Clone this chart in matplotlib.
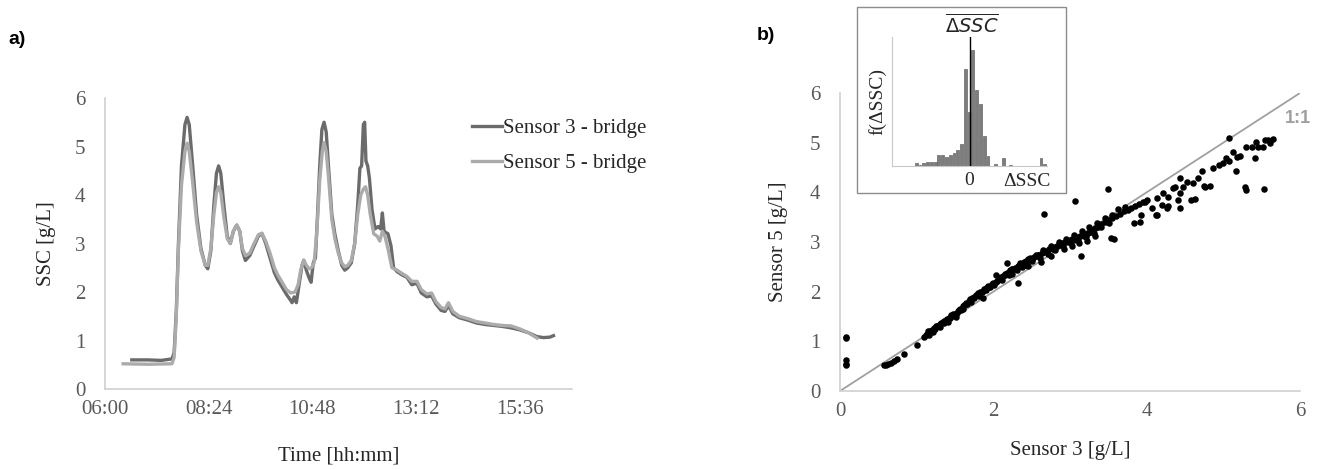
import numpy as np
import matplotlib
matplotlib.use("Agg")
import matplotlib.pyplot as plt
from matplotlib.patches import Rectangle
from matplotlib.ticker import FixedLocator, FuncFormatter

# ---- panel a: SSC time series (time in decimal hour of day) ----
s3_time = [6.62, 7.00, 7.30, 7.55, 7.60, 7.65, 7.70, 7.77, 7.85, 7.90, 7.95, 8.03,
           8.12, 8.22, 8.32, 8.38, 8.45, 8.52, 8.58, 8.63, 8.68, 8.75, 8.83, 8.90,
           8.97, 9.05, 9.12, 9.18, 9.25, 9.35, 9.45, 9.55, 9.63, 9.72, 9.82, 9.92,
           10.00, 10.10, 10.20, 10.28, 10.33, 10.38, 10.43, 10.50, 10.56, 10.60,
           10.66, 10.72, 10.77, 10.82, 10.87, 10.92, 10.97, 11.02, 11.07, 11.12,
           11.18, 11.25, 11.32, 11.40, 11.48, 11.55, 11.62, 11.70, 11.78, 11.85,
           11.90, 11.94, 11.98, 12.01, 12.04, 12.08, 12.12, 12.18, 12.25, 12.32,
           12.38, 12.42, 12.46, 12.55, 12.62, 12.68, 12.76, 12.88, 12.99, 13.10,
           13.22, 13.32, 13.45, 13.56, 13.66, 13.78, 13.87, 13.95, 14.05, 14.20,
           14.40, 14.60, 14.80, 15.00, 15.20, 15.40, 15.60, 15.80, 16.00, 16.15,
           16.30, 16.38]
s3_ssc = [0.60, 0.60, 0.59, 0.62, 0.75, 1.60, 3.00, 4.60, 5.45, 5.60, 5.45, 4.60,
          3.60, 2.90, 2.55, 2.48, 2.85, 3.80, 4.45, 4.60, 4.45, 3.80, 3.15, 3.00,
          3.25, 3.38, 3.25, 2.85, 2.65, 2.75, 2.95, 3.15, 3.21, 3.00, 2.70, 2.40,
          2.25, 2.10, 1.95, 1.85, 1.78, 1.90, 1.78, 2.20, 2.55, 2.65,
          2.45, 2.30, 2.20, 2.60, 2.70, 3.60, 4.60, 5.35, 5.50, 5.30,
          4.50, 3.60, 3.20, 2.85, 2.55, 2.45, 2.50, 2.60, 3.00, 3.80,
          4.55, 4.60, 5.45, 5.50, 4.70, 4.60, 4.35, 3.70, 3.30, 3.35,
          3.30, 3.63, 3.25, 3.20, 2.95, 2.50, 2.42, 2.35, 2.30, 2.15,
          2.18, 1.98, 1.90, 1.92, 1.75, 1.62, 1.60, 1.72, 1.55, 1.47,
          1.42, 1.36, 1.33, 1.31, 1.29, 1.26, 1.22, 1.16, 1.08, 1.06,
          1.07, 1.10]

s5_time = [6.42, 7.00, 7.55, 7.60, 7.65, 7.70, 7.77, 7.85, 7.90, 7.95, 8.03, 8.12,
           8.22, 8.32, 8.38, 8.45, 8.52, 8.58, 8.63, 8.68, 8.75, 8.83, 8.90, 8.97,
           9.05, 9.12, 9.18, 9.25, 9.35, 9.45, 9.55, 9.63, 9.72, 9.82, 9.92, 10.00,
           10.10, 10.20, 10.30, 10.40, 10.47, 10.53, 10.60, 10.66, 10.72, 10.78,
           10.84, 10.90, 10.97, 11.03, 11.07, 11.12, 11.18, 11.25, 11.32, 11.40,
           11.48, 11.55, 11.62, 11.70, 11.78, 11.85, 11.92, 11.98, 12.03, 12.08,
           12.14, 12.22, 12.30, 12.36, 12.42, 12.48, 12.56, 12.64, 12.76, 12.88,
           12.99, 13.10, 13.22, 13.32, 13.45, 13.56, 13.66, 13.78, 13.87, 13.95,
           14.05, 14.20, 14.40, 14.60, 14.80, 15.00, 15.20, 15.40, 15.60, 15.80,
           16.00]
s5_ssc = [0.52, 0.51, 0.52, 0.65, 1.50, 2.90, 4.20, 4.90, 5.07, 4.90, 4.25, 3.45,
          2.85, 2.55, 2.55, 2.90, 3.60, 4.05, 4.17, 4.05, 3.55, 3.10, 3.00, 3.25,
          3.38, 3.25, 2.90, 2.75, 2.80, 3.00, 3.18, 3.21, 3.05, 2.80, 2.50, 2.35,
          2.20, 2.05, 1.98, 2.00, 2.15, 2.45, 2.66, 2.55, 2.48, 2.50,
          2.60, 3.20, 4.30, 4.90, 5.08, 4.90, 4.30, 3.50, 3.10, 2.80,
          2.60, 2.52, 2.55, 2.65, 3.00, 3.60, 4.00, 4.12, 4.17, 4.00,
          3.60, 3.20, 3.15, 3.05, 3.25, 3.15, 2.85, 2.50, 2.45, 2.38,
          2.32, 2.22, 2.22, 2.05, 1.96, 1.98, 1.80, 1.68, 1.65, 1.78,
          1.60, 1.50, 1.45, 1.39, 1.36, 1.33, 1.31, 1.30, 1.24, 1.16,
          1.05]

time_ticks = [6.0, 8.4, 10.8, 13.2, 15.6]

# ---- panel b: sensor 3 vs sensor 5 ----
sc_s3 = [0.08, 0.08, 0.08, 0.08, 0.08, 0.57, 0.60, 0.63, 0.66, 0.70, 0.74, 0.84, 1.00,
         1.10, 1.12, 1.14, 1.16, 1.18, 1.20, 1.22, 1.24, 1.26, 1.28, 1.30, 1.32, 1.34,
         1.36, 1.38, 1.40, 1.42, 1.44, 1.46, 1.48, 1.50, 1.52, 1.54, 1.56, 1.58, 1.60,
         1.62, 1.64, 1.66, 1.68, 1.70, 1.72, 1.75, 1.78, 1.80, 1.83, 1.86, 1.88, 1.90,
         1.93, 1.96, 1.98, 2.00, 2.03, 2.06, 2.08, 2.10, 2.13, 2.15, 2.18, 2.20, 2.22,
         2.25, 2.28, 2.30, 2.32, 2.35, 2.38, 2.40, 2.43, 2.46, 2.48, 2.50, 2.53, 2.56,
         2.58, 2.60, 2.63, 2.66, 2.68, 2.70, 2.73, 2.76, 2.78, 2.80, 2.83, 2.86, 2.88,
         2.90, 2.93, 2.96, 2.98, 3.00, 3.03, 3.06, 3.08, 3.10, 3.13, 3.16, 3.18, 3.20,
         3.23, 3.26, 3.28, 3.30, 3.33, 3.36, 3.38, 3.40, 3.45, 3.50, 3.55, 3.60, 3.65,
         3.70, 3.75, 3.80, 3.85, 3.90, 3.95, 4.00,
         2.66, 3.07, 3.50, 3.14, 3.58, 3.54, 2.32, 2.03, 2.18, 1.87, 2.37, 2.25, 2.45,
         2.62, 2.75, 2.92, 3.02, 3.12, 3.22, 3.32, 3.62, 3.72,
         5.08, 5.65, 5.54, 5.43, 5.37, 5.30, 5.52, 5.61, 5.13, 5.22, 5.04, 5.08, 5.41,
         5.16, 4.86, 4.72, 5.28, 5.30, 5.53, 4.43, 4.67, 4.60, 4.47, 4.37, 4.82, 4.76,
         4.43, 4.63, 4.21, 4.13, 4.28, 4.20, 4.28, 4.43, 4.13, 4.07, 3.93, 3.84, 3.91,
         4.12, 4.27, 4.41, 4.58, 4.75, 4.95, 5.00, 5.18, 5.45, 5.58, 4.52, 4.35, 3.98]
sc_s5 = [1.09, 1.06, 0.62, 0.55, 0.52, 0.52, 0.53, 0.55, 0.56, 0.60, 0.64, 0.75, 0.93,
         1.08, 1.12, 1.15, 1.13, 1.20, 1.22, 1.26, 1.24, 1.30, 1.31, 1.34, 1.36, 1.38,
         1.37, 1.42, 1.44, 1.47, 1.46, 1.52, 1.55, 1.56, 1.58, 1.62, 1.66, 1.64, 1.72,
         1.74, 1.78, 1.76, 1.82, 1.85, 1.88, 1.90, 1.93, 1.97, 2.00, 2.02, 2.06, 2.08,
         2.12, 2.10, 2.16, 2.18, 2.20, 2.24, 2.27, 2.29, 2.32, 2.36, 2.38, 2.40, 2.43,
         2.45, 2.48, 2.46, 2.52, 2.55, 2.56, 2.60, 2.62, 2.63, 2.67, 2.65, 2.70, 2.72,
         2.74, 2.73, 2.78, 2.80, 2.82, 2.79, 2.85, 2.88, 2.86, 2.90, 2.92, 2.95, 2.93,
         2.98, 3.00, 3.02, 3.00, 3.04, 3.06, 3.08, 3.05, 3.10, 3.12, 3.14, 3.12, 3.17,
         3.19, 3.22, 3.20, 3.25, 3.28, 3.30, 3.33, 3.36, 3.40, 3.44, 3.48, 3.52, 3.57,
         3.62, 3.64, 3.68, 3.72, 3.76, 3.80, 3.84,
         3.56, 3.82, 4.07, 2.72, 3.07, 3.09, 2.17, 2.33, 2.57, 1.88, 2.50, 2.36, 2.52,
         2.60, 2.72, 2.86, 2.92, 2.97, 3.02, 3.12, 3.66, 3.71,
         5.10, 5.07, 5.05, 5.01, 4.91, 4.91, 4.91, 4.99, 4.81, 4.73, 4.69, 4.63, 4.69,
         4.43, 4.49, 4.43, 4.10, 4.04, 4.06, 4.29, 4.29, 4.19, 4.10, 4.10, 4.12, 4.10,
         3.98, 3.86, 3.98, 3.88, 3.90, 3.74, 3.72, 3.68, 3.54, 3.68, 3.54, 3.38, 3.41,
         3.54, 3.68, 3.85, 3.85, 4.12, 4.55, 4.60, 4.72, 4.92, 5.06, 4.20, 4.08, 3.80]
# extra points that thicken the dense band
band_s3 = [1.15, 1.25, 1.35, 1.45, 1.55, 1.65, 1.75, 1.85, 1.95, 2.05, 2.15, 2.25,
           2.35, 2.45, 2.55, 2.65, 2.75, 2.85, 2.95, 3.05, 3.15, 3.25, 3.35, 3.45,
           3.55,
           1.21, 1.31, 1.41, 1.51, 1.61, 1.71, 1.81, 1.91, 2.01, 2.11, 2.21, 2.31,
           2.41, 2.51, 2.61, 2.71, 2.81, 2.91, 3.01, 3.11, 3.21, 3.31, 3.41, 3.51]
band_s5 = [1.21, 1.31, 1.41, 1.53, 1.63, 1.76, 1.88, 1.99, 2.10, 2.22, 2.33, 2.45,
           2.57, 2.66, 2.74, 2.83, 2.92, 3.00, 3.07, 3.15, 3.22, 3.30, 3.38, 3.48,
           3.55,
           1.18, 1.28, 1.39, 1.50, 1.66, 1.80, 1.92, 2.03, 2.13, 2.23, 2.33, 2.44,
           2.54, 2.61, 2.68, 2.75, 2.84, 2.91, 2.98, 3.04, 3.11, 3.19, 3.30, 3.38]

# ---- inset: histogram of delta SSC (bin index, relative frequency) ----
hist_bin = np.arange(-14, 21)
hist_freq = [9, 2, 10, 13, 13, 13, 34, 32, 27, 32, 39, 49, 67, 292, 162, 349, 229,
             185, 89, 29, 0, 7, 0, 25, 0, 4, 0, 0, 0, 0, 0, 0, 0, 24, 7]
bin_width = 0.05
mean_dssc = 0.013

serif = "Liberation Serif"
tick_col = "#595959"
lab_col = "#262626"
spine_col = "#d0d0d0"

W, H = 1323, 470
fig = plt.figure(figsize=(W / 100, H / 100), dpi=100)


def fbox(x0, x1, ytop, ybot):
    return [x0 / W, 1 - ybot / H, (x1 - x0) / W, (ybot - ytop) / H]


# panel a
ax1 = fig.add_axes(fbox(105, 571.6, 98, 389))
ax1.plot(s3_time, s3_ssc, color="#6d6a6b", lw=2.4, label="Sensor 3 - bridge",
         solid_joinstyle="round", zorder=2)
ax1.plot(s5_time, s5_ssc, color="#ababab", lw=2.4, label="Sensor 5 - bridge",
         solid_joinstyle="round", zorder=3)
ax1.set_xlim(6.0, 16.8)
ax1.set_ylim(0, 6)
ax1.xaxis.set_major_locator(FixedLocator(time_ticks))
ax1.xaxis.set_major_formatter(FuncFormatter(
    lambda v, p: f"{int(round(v * 60)) // 60:02d}:{int(round(v * 60)) % 60:02d}"))
ax1.set_yticks(range(7))
ax1.set_xlabel("Time [hh:mm]", family=serif, fontsize=15, color=lab_col, labelpad=20)
ax1.set_ylabel("SSC [g/L]", family=serif, fontsize=15, color=lab_col, labelpad=14)
leg = ax1.legend(loc="upper left", bbox_to_anchor=(0.787, 0.93), frameon=False,
                 borderaxespad=0, borderpad=0, handlelength=1.45, handletextpad=0.05,
                 labelspacing=0.75, prop={"family": serif, "size": 15})
for t in leg.get_texts():
    t.set_color(lab_col)

# panel b
ax2 = fig.add_axes(fbox(840, 1300, 93, 391))
ax2.plot([0, 6], [0, 6], color="#a0a0a0", lw=1.3, zorder=1)
ax2.scatter(sc_s3 + band_s3, sc_s5 + band_s5, s=22, color="black", zorder=3,
            linewidths=0)
ax2.set_xlim(0, 6)
ax2.set_ylim(0, 6)
ax2.set_xticks([0, 2, 4, 6])
ax2.set_yticks(range(7))
ax2.set_xlabel("Sensor 3 [g/L]", family=serif, fontsize=15, color=lab_col, labelpad=14)
ax2.set_ylabel("Sensor 5 [g/L]", family=serif, fontsize=15, color=lab_col, labelpad=16)
ax2.text(5.97, 5.48, "1:1", fontsize=13, fontweight="bold", color="#a0a0a0",
         family="Liberation Sans", ha="center", va="center")

for ax in (ax1, ax2):
    for side in ("top", "right"):
        ax.spines[side].set_visible(False)
    for side in ("left", "bottom"):
        ax.spines[side].set_color(spine_col)
        ax.spines[side].set_linewidth(1.2)
    ax.tick_params(length=0, labelsize=15, labelcolor=tick_col, pad=8)
    for lbl in ax.get_xticklabels() + ax.get_yticklabels():
        lbl.set_family(serif)
    ax.tick_params(axis="y", pad=14)

# inset frame
fig.patches.append(Rectangle((857 / W, 1 - 193 / H), (1066 - 857) / W, (193 - 7) / H,
                             transform=fig.transFigure, fill=False,
                             edgecolor="#8c8c8c", lw=1.0))
ax3 = fig.add_axes(fbox(892, 1047, 37, 166))
dx = hist_bin * bin_width
ax3.bar(dx, hist_freq, width=bin_width * 0.75, color="#7d7d7d",
        edgecolor="#666666", lw=0.5, zorder=2)
ax3.axvline(mean_dssc, color="black", lw=1.0, zorder=3)
ax3.set_xlim(-20.4 * bin_width, 20.6 * bin_width)
ax3.set_ylim(0, 387)
ax3.set_xticks([0])
ax3.set_yticks([])
ax3.tick_params(length=0, labelsize=14, labelcolor=lab_col, pad=4)
for lbl in ax3.get_xticklabels():
    lbl.set_family(serif)
for side in ("top", "right"):
    ax3.spines[side].set_visible(False)
for side in ("left", "bottom"):
    ax3.spines[side].set_color("#c8c8c8")
ax3.set_ylabel("f(ΔSSC)", family=serif, fontsize=14, color=lab_col, labelpad=4)
fig.text(1027 / W, 1 - 182 / H, "ΔSSC", family=serif, fontsize=14, color=lab_col,
         ha="center", va="center")
fig.text(972 / W, 1 - 25 / H, r"$\overline{\Delta SSC}$", fontsize=14, color=lab_col,
         ha="center", va="center")

# panel labels
fig.text(8 / W, 1 - 40 / H, "a)", family="Liberation Sans", fontweight="bold",
         fontsize=14, va="center")
fig.text(757 / W, 1 - 36 / H, "b)", family="Liberation Sans", fontweight="bold",
         fontsize=14, va="center")

fig.savefig("out.png", dpi=100)
